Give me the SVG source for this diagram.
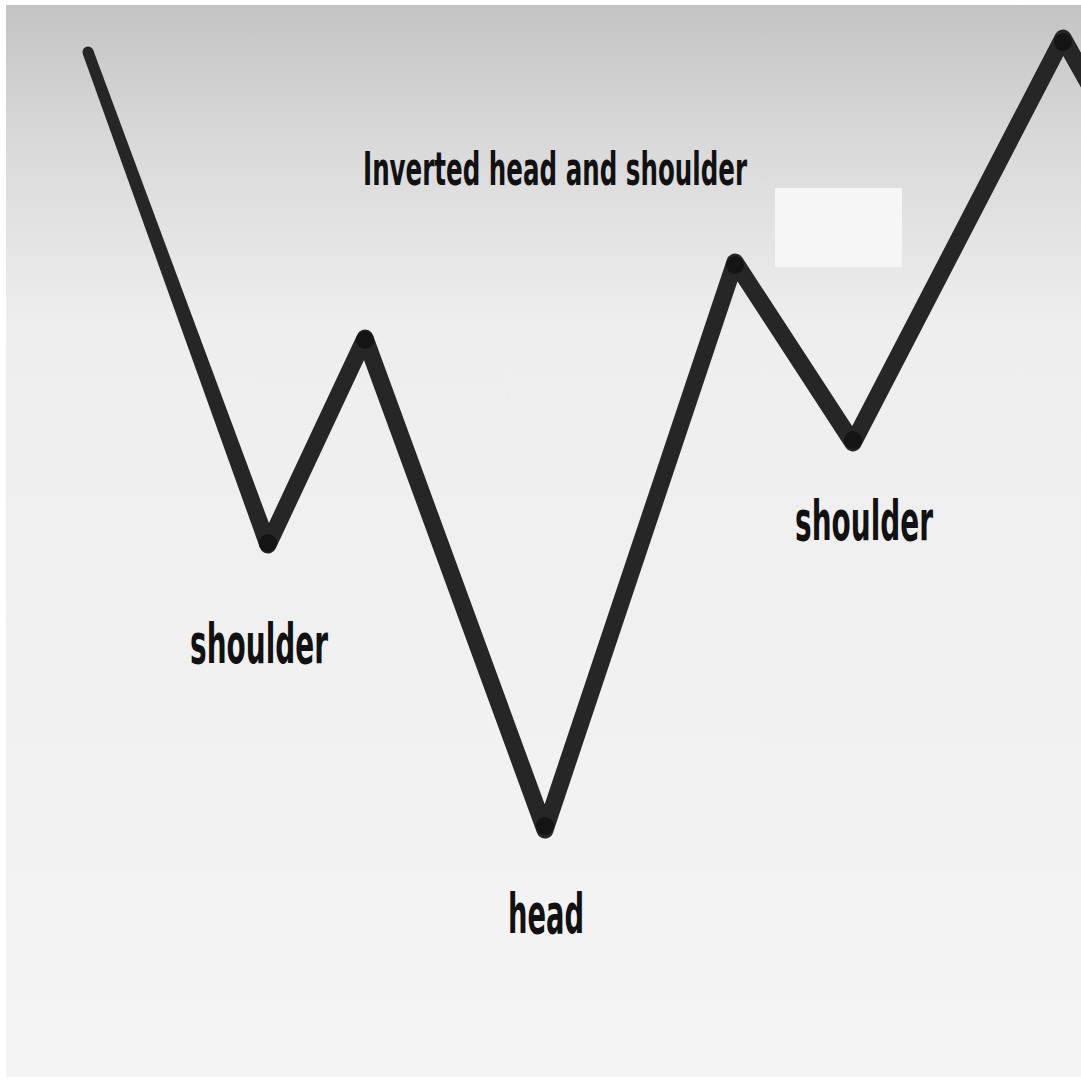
<svg xmlns="http://www.w3.org/2000/svg" width="1081" height="1080" viewBox="0 0 1081 1080">
  <defs>
    <linearGradient id="bg" x1="0" y1="0" x2="0" y2="1">
      <stop offset="0" stop-color="#c3c3c3"/>
      <stop offset="0.12" stop-color="#d8d8d8"/>
      <stop offset="0.3" stop-color="#eeeeee"/>
      <stop offset="1" stop-color="#f4f4f4"/>
    </linearGradient>
    <style>
      .lbl { font-family: "DejaVu Sans Condensed", "DejaVu Sans", sans-serif; font-weight: bold; fill: #111; }
      .line { fill: none; stroke: #262626; stroke-linejoin: round; stroke-linecap: round; }
      .taper { fill: #262626; }
      .dot { fill: #141414; }
    </style>
  </defs>
  <rect x="0" y="0" width="1081" height="1080" fill="#ffffff"/>
  <rect x="6" y="5" width="1075" height="1072" fill="url(#bg)"/>
  <rect x="775" y="188" width="127" height="79" fill="#f6f6f6"/>
  <g id="connectors">
    <circle class="taper" cx="88" cy="52" r="5.5"/>
    <polygon class="taper" points="93.2,50.1 276,542.1 260,547.9 82.8,53.9"/>
    <path class="line" stroke-width="17" d="M268,545 L365,338 L545,830 L735,262 L853,443 L1063,38 L1095,95"/>
  </g>
  <g id="vertices">
    <circle class="dot" cx="268" cy="543" r="9"/>
    <circle class="dot" cx="365" cy="340" r="9"/>
    <circle class="dot" cx="545" cy="826" r="9"/>
    <circle class="dot" cx="735" cy="265" r="9"/>
    <circle class="dot" cx="853" cy="440" r="9"/>
    <circle class="dot" cx="1063" cy="42" r="9"/>
  </g>
  <g id="title"><text class="lbl" x="363" y="185" font-size="46" textLength="384" lengthAdjust="spacingAndGlyphs">Inverted head and shoulder</text></g>
  <g id="left-shoulder"><text class="lbl" x="190" y="663" font-size="55" textLength="138" lengthAdjust="spacingAndGlyphs">shoulder</text></g>
  <g id="head"><text class="lbl" x="508" y="933" font-size="55" textLength="76" lengthAdjust="spacingAndGlyphs">head</text></g>
  <g id="right-shoulder"><text class="lbl" x="795" y="540" font-size="55" textLength="138" lengthAdjust="spacingAndGlyphs">shoulder</text></g>
</svg>
